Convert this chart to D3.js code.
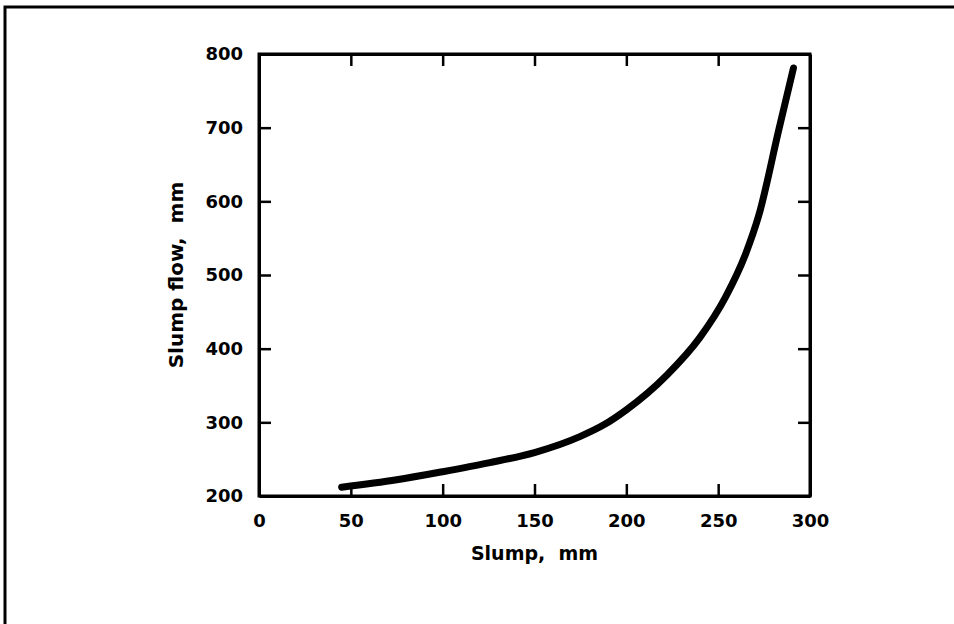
<!DOCTYPE html>
<html lang="en">

<head>
    <meta charset="UTF-8">
    <title>Slump flow vs slump</title>
    <script src="https://d3js.org/d3.v7.min.js"></script>
    <style>
        body { margin: 0; background: #fff; }
        text { font-family: "DejaVu Sans", sans-serif; font-weight: bold; fill: #000; }
    </style>
</head>

<body>
    <script>
        // values
        var slump = [45, 75, 100, 125, 150, 175, 188, 200, 222, 240, 254, 265, 272, 283, 291];
        var slumpFlow = [212, 222, 233, 245, 259, 281, 297, 317, 364, 415, 470, 529, 580, 697, 781];

        var xTicks = [0, 50, 100, 150, 200, 250, 300];
        var yTicks = [200, 300, 400, 500, 600, 700, 800];
        var xLabel = "Slump,  mm";
        var yLabel = "Slump flow,  mm";

        var width = 954, height = 624;
        var plotLeft = 259, plotRight = 810, plotTop = 54, plotBottom = 496;

        var svg = d3.select("body")
            .append("svg")
            .attr("width", width)
            .attr("height", height);

        // page frame (top and left edges of the scan)
        svg.append("path")
            .attr("d", "M5," + height + "V7H" + width)
            .attr("fill", "none")
            .attr("stroke", "#000")
            .attr("stroke-width", 3);

        var x = d3.scaleLinear().domain([0, 300]).range([plotLeft, plotRight]);
        var y = d3.scaleLinear().domain([200, 800]).range([plotBottom, plotTop]);

        var innerX = xTicks.slice(1, -1);
        var innerY = yTicks.slice(1, -1);

        svg.append("g")
            .attr("transform", "translate(0," + plotBottom + ")")
            .call(d3.axisBottom(x).tickValues(xTicks).tickSizeInner(-12).tickSizeOuter(0).tickPadding(18))
            .call(g => g.selectAll(".tick line").filter(d => d == 0 || d == 300).remove());

        svg.append("g")
            .attr("transform", "translate(" + plotLeft + ",0)")
            .call(d3.axisLeft(y).tickValues(yTicks).tickSizeInner(-12).tickSizeOuter(0).tickPadding(16))
            .call(g => g.selectAll(".tick line").filter(d => d == 200 || d == 800).remove());

        svg.append("g")
            .attr("transform", "translate(0," + plotTop + ")")
            .call(d3.axisTop(x).tickValues(innerX).tickSizeInner(-12).tickSizeOuter(0).tickFormat(""));

        svg.append("g")
            .attr("transform", "translate(" + plotRight + ",0)")
            .call(d3.axisRight(y).tickValues(innerY).tickSizeInner(-12).tickSizeOuter(0).tickFormat(""));

        svg.selectAll(".domain").attr("stroke-width", 3);
        svg.selectAll(".tick line").attr("stroke-width", 2.5);
        svg.selectAll(".tick text")
            .style("font-family", "'DejaVu Sans', sans-serif")
            .style("font-weight", "bold")
            .style("font-size", "18px");

        svg.append("rect")
            .attr("x", plotLeft)
            .attr("y", plotTop)
            .attr("width", plotRight - plotLeft)
            .attr("height", plotBottom - plotTop)
            .attr("fill", "none")
            .attr("stroke", "#000")
            .attr("stroke-width", 3);

        var line = d3.line()
            .x((d, i) => x(slump[i]))
            .y(d => y(d))
            .curve(d3.curveMonotoneX);

        svg.append("path")
            .datum(slumpFlow)
            .attr("d", line)
            .attr("fill", "none")
            .attr("stroke", "#000")
            .attr("stroke-width", 7)
            .attr("stroke-linecap", "round");

        svg.append("text")
            .attr("x", (plotLeft + plotRight) / 2)
            .attr("y", 560)
            .attr("text-anchor", "middle")
            .style("font-size", "19px")
            .style("white-space", "pre")
            .text(xLabel);

        svg.append("text")
            .attr("transform", "translate(183," + (plotTop + plotBottom) / 2 + ") rotate(-90)")
            .attr("text-anchor", "middle")
            .style("font-size", "20px")
            .style("white-space", "pre")
            .text(yLabel);
    </script>
</body>

</html>
